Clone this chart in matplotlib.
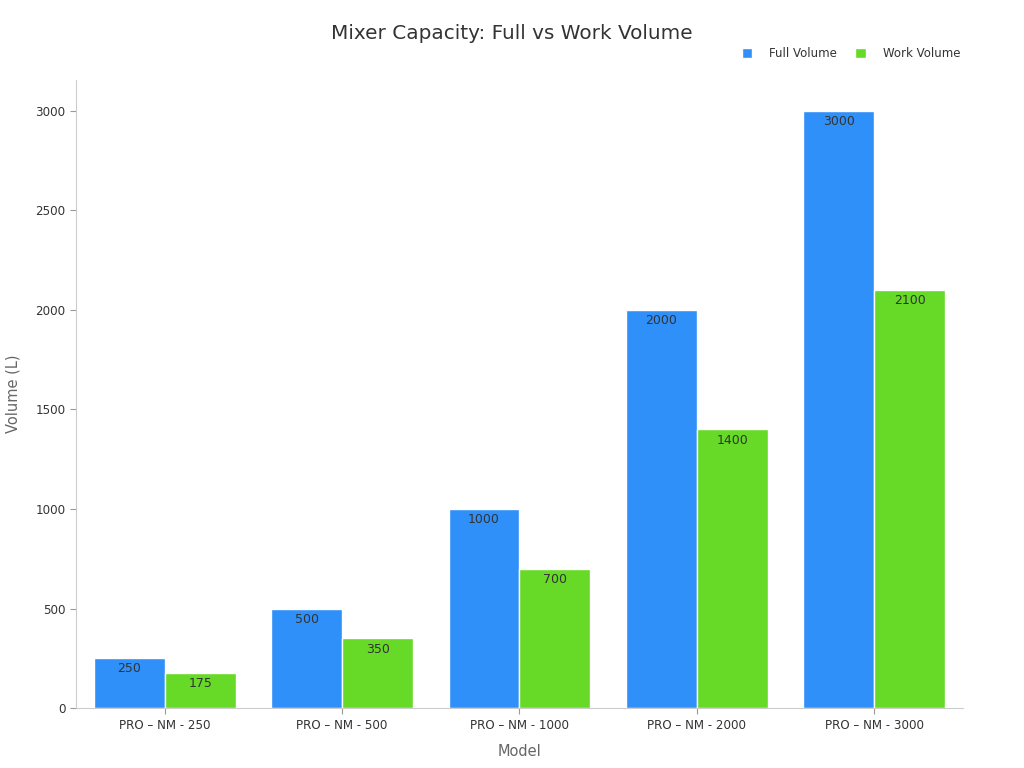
import matplotlib
matplotlib.use("Agg")
import matplotlib.pyplot as plt
import numpy as np

models = ["PRO – NM - 250", "PRO – NM - 500", "PRO – NM - 1000", "PRO – NM - 2000", "PRO – NM - 3000"]
full_volume = [250, 500, 1000, 2000, 3000]
work_volume = [175, 350, 700, 1400, 2100]

blue = "#2E90F8"
green = "#66DA26"

fig = plt.figure(figsize=(10.24, 7.68), dpi=100)
ax = fig.add_axes([0.0742, 0.078, 0.8662, 0.8178])

x = np.arange(len(models))
w = 0.4
b1 = ax.bar(x - w/2, full_volume, w, color=blue, edgecolor="white", linewidth=1, label="Full Volume")
b2 = ax.bar(x + w/2, work_volume, w, color=green, edgecolor="white", linewidth=1, label="Work Volume")

for bars in (b1, b2):
    for rect in bars:
        h = rect.get_height()
        ax.annotate(f"{int(h)}", (rect.get_x() + rect.get_width()/2, h),
                    xytext=(0, -3), textcoords="offset points",
                    ha="center", va="top", fontsize=9, color="#333333")

ax.set_xlim(-0.5, 4.5)
ax.set_ylim(0, 3155)
ax.set_yticks([0, 500, 1000, 1500, 2000, 2500, 3000])
ax.set_xticks(x)
ax.set_xticklabels(models)
ax.tick_params(axis="both", labelsize=8.6, labelcolor="#333333", length=4, color="#999999")

for s in ("top", "right"):
    ax.spines[s].set_visible(False)
for s in ("left", "bottom"):
    ax.spines[s].set_color("#cccccc")

ax.set_xlabel("Model", fontsize=10.5, color="#666666", labelpad=9)
ax.set_ylabel("Volume (L)", fontsize=10.5, color="#666666", labelpad=11)

fig.text(0.5, 0.956, "Mixer Capacity: Full vs Work Volume", ha="center", va="center",
         fontsize=14.4, color="#333333")

leg = fig.legend(handles=[b1, b2], labels=["Full Volume", "Work Volume"],
                 loc="center right", bbox_to_anchor=(0.948, 0.930), ncol=2,
                 frameon=False, fontsize=8.5, handlelength=0.9, handleheight=0.9,
                 columnspacing=1.6, handletextpad=1.4)
for t in leg.get_texts():
    t.set_color("#333333")

fig.savefig("out.png", dpi=100)
